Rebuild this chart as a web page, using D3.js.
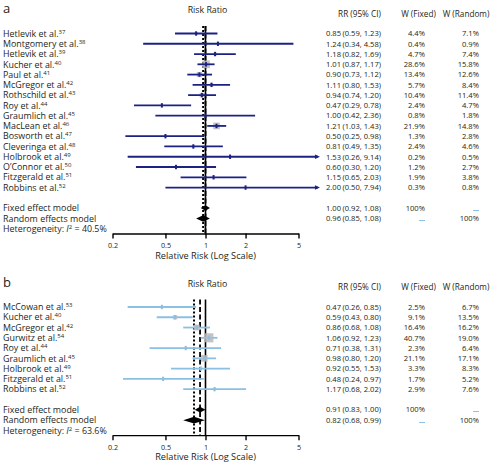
<!DOCTYPE html>
<html><head><meta charset="utf-8">
<script src="https://cdn.jsdelivr.net/npm/d3@7"></script>
<style>
body{margin:0;background:#fff;}
svg text{font-family:"Open Sans","Noto Sans",sans-serif;fill:#231f20;}
</style></head>
<body><svg id="chart" width="496" height="469"></svg>
<script>
// ---------- Panel a data ----------
const studiesA = ["Hetlevik et al.","Montgomery et al.","Hetlevik et al.","Kucher et al.","Paul et al.","McGregor et al.","Rothschild et al.","Roy et al.","Graumlich et al.","MacLean et al.","Bosworth et al.","Cleveringa et al.","Holbrook et al.","O\u2019Connor et al.","Fitzgerald et al.","Robbins et al."];
const refsA = ["37","38","39","40","41","42","43","44","45","46","47","48","49","50","51","52"];
const rrA = [0.85,1.24,1.18,1.01,0.90,1.11,0.94,0.47,1.00,1.21,0.50,0.81,1.53,0.60,1.15,2.00];
const loA = [0.59,0.34,0.82,0.87,0.73,0.80,0.74,0.29,0.42,1.03,0.25,0.49,0.26,0.30,0.65,0.50];
const hiA = [1.23,4.58,1.69,1.17,1.12,1.53,1.20,0.78,2.36,1.43,0.98,1.35,9.14,1.20,2.03,7.94];
const wFixedA = ["4.4%","0.4%","4.7%","28.6%","13.4%","5.7%","10.4%","2.4%","0.8%","21.9%","1.3%","2.4%","0.2%","1.2%","1.9%","0.3%"];
const wRandomA = ["7.1%","0.9%","7.4%","15.8%","12.6%","8.4%","11.4%","4.7%","1.8%","14.8%","2.8%","4.6%","0.5%","2.7%","3.8%","0.8%"];
const pooledA = {fixed:[1.00,0.92,1.08], random:[0.96,0.85,1.08], het:"40.5%"};

// ---------- Panel b data ----------
const studiesB = ["McCowan et al.","Kucher et al.","McGregor et al.","Gurwitz et al.","Roy et al.","Graumlich et al.","Holbrook et al.","Fitzgerald et al.","Robbins et al."];
const refsB = ["53","40","42","54","44","45","49","51","52"];
const rrB = [0.47,0.59,0.86,1.06,0.71,0.98,0.92,0.48,1.17];
const loB = [0.26,0.43,0.68,0.92,0.38,0.80,0.55,0.24,0.68];
const hiB = [0.85,0.80,1.08,1.23,1.31,1.20,1.53,0.97,2.02];
const wFixedB = ["2.5%","9.1%","16.4%","40.7%","2.3%","21.1%","3.3%","1.7%","2.9%"];
const wRandomB = ["6.7%","13.5%","16.2%","19.0%","6.4%","17.1%","8.3%","5.2%","7.6%"];
const pooledB = {fixed:[0.91,0.83,1.00], random:[0.82,0.68,0.99], het:"63.6%"};

const tickValues = [0.2,0.5,1,2,5];
const tickLabels = ["0.2","0.5","1","2","5"];
const clipMax = 7;

const svg = d3.select("#chart");
const x = d3.scaleLog().domain([0.2,5]).range([112.5,298.5]);
const f2 = d3.format(".2f");
const TF = 7.6;   // table font size
const LF = 8.9;   // label font size

function panel(opts){
  const {label, top, studies, refs, rr, lo, hi, wF, wR, pooled, color, pointColor, squaresOnTop} = opts;
  const g = svg.append("g");
  const step = 10.27;
  const y0 = top + 33.5;
  const n = studies.length;
  const yFixed = y0 + (n-1)*step + 20.5;
  const yRandom = yFixed + 10.5;
  const yHet = yRandom + 10.5;
  const yAxis = yRandom + 15;

  g.append("text").attr("x",3).attr("y",top+13).attr("font-size",13).text(label);
  g.append("text").attr("x",x(1)+2).attr("y",top+13.3).attr("font-size",8.8).attr("text-anchor","middle").text("Risk Ratio");
  g.append("text").attr("x",359.5).attr("y",top+16.5).attr("font-size",8.2).attr("text-anchor","middle").text("RR (95% CI)");
  g.append("text").attr("x",418.5).attr("y",top+16.5).attr("font-size",8.2).attr("text-anchor","middle").text("W (Fixed)");
  g.append("text").attr("x",466).attr("y",top+16.5).attr("font-size",8.2).attr("text-anchor","middle").text("W (Random)");

  // reference lines
  const lineTop = top + 26;
  g.append("line").attr("x1",x(1)).attr("x2",x(1)).attr("y1",lineTop).attr("y2",yAxis)
    .attr("stroke","#000").attr("stroke-width",1.6);
  g.append("line").attr("x1",x(pooled.fixed[0])).attr("x2",x(pooled.fixed[0])).attr("y1",lineTop).attr("y2",yAxis)
    .attr("stroke","#000").attr("stroke-width",1.8).attr("stroke-dasharray","5,2.5");
  g.append("line").attr("x1",x(pooled.random[0])).attr("x2",x(pooled.random[0])).attr("y1",lineTop).attr("y2",yAxis)
    .attr("stroke","#000").attr("stroke-width",2).attr("stroke-dasharray","2,2");

  const rows = studies.map((s,i)=>({s, ref:refs[i], rr:rr[i], lo:lo[i], hi:hi[i], wf:wF[i], wr:wR[i], y:y0+i*step}));

  // study labels and table
  rows.forEach(r=>{
    const t = g.append("text").attr("x",3).attr("y",r.y+3.2).attr("font-size",LF);
    t.append("tspan").text(r.s);
    t.append("tspan").attr("dy",-3).attr("font-size",6).text(r.ref);
    g.append("text").attr("x",326).attr("y",r.y+2.8).attr("font-size",TF).text(f2(r.rr));
    g.append("text").attr("x",342.5).attr("y",r.y+2.8).attr("font-size",TF).text("("+f2(r.lo)+", "+f2(r.hi)+")");
    g.append("text").attr("x",425).attr("y",r.y+2.8).attr("font-size",TF).attr("text-anchor","end").text(r.wf);
    g.append("text").attr("x",479).attr("y",r.y+2.8).attr("font-size",TF).attr("text-anchor","end").text(r.wr);
  });

  const sq = r => 1.42*Math.sqrt(parseFloat(r.wf));
  function drawSquares(){
    g.selectAll(null).data(rows).enter().append("rect")
      .attr("x",r=>x(r.rr)-sq(r)/2).attr("y",r=>r.y-sq(r)/2)
      .attr("width",sq).attr("height",sq)
      .attr("fill","#b9b9bd").attr("fill-opacity",0.85);
  }
  if(!squaresOnTop) drawSquares();
  // CI lines
  rows.forEach(r=>{
    const xe = x(Math.min(r.hi, clipMax));
    g.append("line").attr("x1",x(r.lo)).attr("x2",xe).attr("y1",r.y).attr("y2",r.y)
      .attr("stroke",color).attr("stroke-width",1.8);
    if(r.hi>clipMax){
      g.append("path").attr("d",`M${xe+2},${r.y} L${xe-3},${r.y-2.2} L${xe-3},${r.y+2.2} Z`).attr("fill",color);
    }
  });
  if(squaresOnTop) drawSquares();
  // point estimates
  g.selectAll(null).data(rows).enter().append("rect")
    .attr("x",r=>x(r.rr)-1).attr("y",r=>r.y-2.2).attr("width",2).attr("height",4.4)
    .attr("fill",pointColor);

  // diamonds
  const dia = (p,y,h)=> g.append("path")
    .attr("d",`M${x(p[1])},${y} L${x(p[0])},${y-h} L${x(p[2])},${y} L${x(p[0])},${y+h} Z`)
    .attr("fill","#000");
  dia(pooled.fixed,yFixed,2.8);
  dia(pooled.random,yRandom,3.3);

  g.append("text").attr("x",3).attr("y",yFixed+3.2).attr("font-size",LF).text("Fixed effect model");
  g.append("text").attr("x",3).attr("y",yRandom+3.2).attr("font-size",LF).text("Random effects model");
  const ht = g.append("text").attr("x",3).attr("y",yHet+3.2).attr("font-size",LF);
  ht.append("tspan").text("Heterogeneity: ");
  ht.append("tspan").attr("font-style","italic").text("I");
  ht.append("tspan").attr("dy",-3).attr("font-size",6).text("2");
  ht.append("tspan").attr("dy",3).text(" = "+pooled.het);

  // pooled text
  [[pooled.fixed,yFixed,"100%","..."],[pooled.random,yRandom,"...","100%"]].forEach(([p,y,a,b])=>{
    g.append("text").attr("x",326).attr("y",y+2.8).attr("font-size",TF).text(f2(p[0]));
    g.append("text").attr("x",342.5).attr("y",y+2.8).attr("font-size",TF).text("("+f2(p[1])+", "+f2(p[2])+")");
    g.append("text").attr("x",425).attr("y",y+2.8).attr("font-size",TF).attr("text-anchor","end").text(a);
    g.append("text").attr("x",479).attr("y",y+2.8).attr("font-size",TF).attr("text-anchor","end").text(b);
  });

  // axis
  const axis = d3.axisBottom(x).tickValues(tickValues).tickFormat((d,i)=>tickLabels[i]).tickSize(5).tickSizeOuter(0);
  const ag = g.append("g").attr("transform",`translate(0,${yAxis})`).call(axis);
  ag.select(".domain").attr("stroke","#000").attr("stroke-width",1.4);
  ag.selectAll(".tick line").attr("stroke","#000").attr("stroke-width",1.4);
  ag.selectAll(".tick text").attr("font-size",7.2).attr("font-family","Open Sans").attr("fill","#231f20").attr("dy","0.95em");
  g.append("text").attr("x",x(1)).attr("y",yAxis+25).attr("font-size",9.2).attr("text-anchor","middle").text("Relative Risk (Log Scale)");
}

panel({label:"a", top:0, studies:studiesA, refs:refsA, rr:rrA, lo:loA, hi:hiA, wF:wFixedA, wR:wRandomA,
  pooled:pooledA, color:"#1c2282", pointColor:"#1c2282", squaresOnTop:false});
panel({label:"b", top:273.5, studies:studiesB, refs:refsB, rr:rrB, lo:loB, hi:hiB, wF:wFixedB, wR:wRandomB,
  pooled:pooledB, color:"#8bbfe3", pointColor:"#8bbfe3", squaresOnTop:true});
</script></body></html>
